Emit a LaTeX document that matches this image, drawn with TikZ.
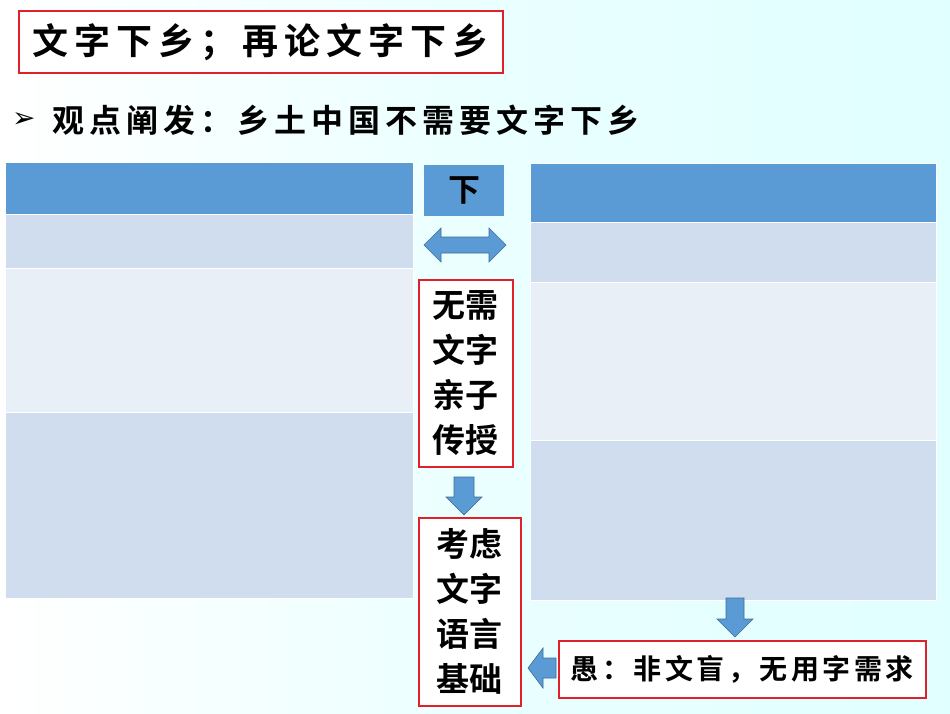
\documentclass[tikz,border=0pt]{standalone}
\usepackage{fontspec}
\newfontfamily\cjk{Noto Sans CJK SC Bold}
\newfontfamily\djsans{DejaVu Sans}
\definecolor{hdr}{HTML}{5B9BD5}
\definecolor{rowa}{HTML}{CFDDEE}
\definecolor{rowb}{HTML}{E9EFF7}
\definecolor{redb}{HTML}{E0202A}
\def\sa{\kern6pt}\def\sb{\kern5pt}\def\sc{\kern3.5pt}
\tikzset{
  redbox/.style={draw=redb,line width=1.5pt,fill=white},
  cell/.style={draw=white,line width=0.8pt},
  bluearrow/.style={fill=hdr,draw=hdr!70!black,line width=0.6pt,line join=miter},
  txt/.style={font=\cjk\fontsize{33}{45}\selectfont,align=center,inner sep=0pt}
}
\begin{document}
\begin{tikzpicture}[x=1pt,y=-1pt]
\shade[left color=white,right color=cyan!12,middle color=cyan!8] (0,0) rectangle (950,713);
\useasboundingbox (0,0) rectangle (950,713);
% title
\node[redbox,minimum width=484,minimum height=62,anchor=north west,inner sep=0pt,font=\cjk\fontsize{36}{38}\selectfont] (title) at (18,10) {文\sa 字\sa 下\sa 乡\sa ；\sa 再\sa 论\sa 文\sa 字\sa 下\sa 乡};
\node[anchor=west,font=\djsans\fontsize{28}{30}\selectfont,inner sep=0pt] (bul) at (12,120) {➢};
\node[anchor=west,font=\cjk\fontsize{32}{34}\selectfont,inner sep=0pt] (pt) at (52,120) {观\sb 点\sb 阐\sb 发\sb ：\sb 乡\sb 土\sb 中\sb 国\sb 不\sb 需\sb 要\sb 文\sb 字\sb 下\sb 乡};
% left table
\fill[hdr,cell] (5,162) rectangle (413,214);
\fill[rowa,cell] (5,214) rectangle (413,268);
\fill[rowb,cell] (5,268) rectangle (413,412);
\fill[rowa,cell] (5,412) rectangle (413,598);
% right table
\fill[hdr,cell] (530,163) rectangle (936,222);
\fill[rowa,cell] (530,222) rectangle (936,282);
\fill[rowb,cell] (530,282) rectangle (936,440);
\fill[rowa,cell] (530,440) rectangle (936,600);
% middle
\node[fill=hdr,minimum width=80,minimum height=51,anchor=north west,inner sep=0pt,font=\cjk\fontsize{32}{34}\selectfont] (xia) at (424,165) {下};
\draw[bluearrow] (424,245) -- (441,228) -- (441,237) -- (489,237) -- (489,228) -- (506,245) -- (489,262) -- (489,253) -- (441,253) -- (441,262) -- cycle;
\node[redbox,minimum width=94,minimum height=187,anchor=north west,inner sep=0pt,txt] (b1) at (418,279) {无需\\文字\\亲子\\传授};
\draw[bluearrow] (454,477) -- (474,477) -- (474,497) -- (482,497) -- (464,515) -- (446,497) -- (454,497) -- cycle;
\node[redbox,minimum width=102,minimum height=188,anchor=north west,inner sep=0pt,txt] (b2) at (418,517) {考虑\\文字\\语言\\基础};
\draw[bluearrow] (726,598) -- (744,598) -- (744,619) -- (753,619) -- (735,637) -- (717,619) -- (726,619) -- cycle;
\node[redbox,minimum width=367,minimum height=57,anchor=north west,inner sep=0pt,font=\cjk\fontsize{28}{30}\selectfont] (b3) at (558,640) {愚\sc ：\sc 非\sc 文\sc 盲\sc ，\sc 无\sc 用\sc 字\sc 需\sc 求};
\draw[bluearrow] (556,658) -- (556,678) -- (543,678) -- (543,688) -- (528,668) -- (543,648) -- (543,658) -- cycle;
\end{tikzpicture}
\end{document}
